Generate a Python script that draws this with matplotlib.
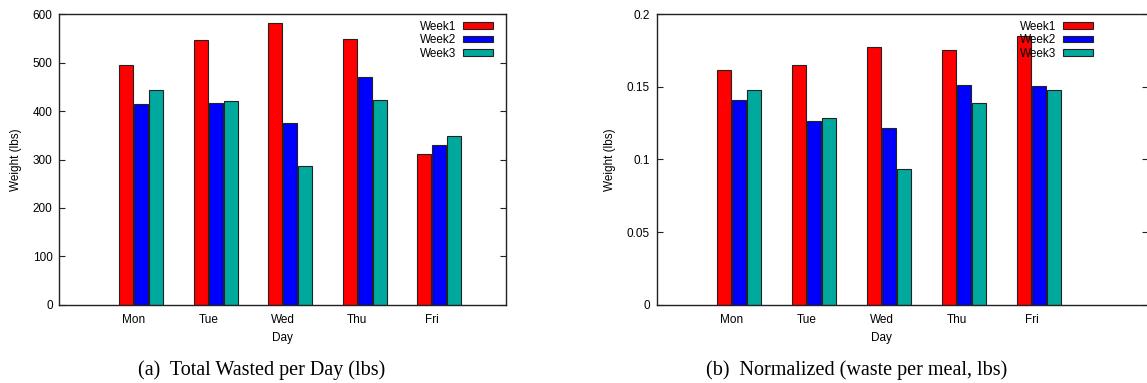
import numpy as np
import matplotlib
matplotlib.use('Agg')
import matplotlib.pyplot as plt

days = ['Mon', 'Tue', 'Wed', 'Thu', 'Fri']
weeks = ['Week1', 'Week2', 'Week3']

total_week1 = [495, 546, 583, 548, 311]
total_week2 = [415, 417, 376, 470, 329]
total_week3 = [443, 420, 287, 423, 348]

norm_week1 = [0.1614, 0.1649, 0.1773, 0.1752, 0.1848]
norm_week2 = [0.1410, 0.1263, 0.1215, 0.1511, 0.1504]
norm_week3 = [0.1479, 0.1284, 0.0932, 0.1387, 0.1479]

colors = ['#ff0000', '#0000ff', '#00a99d']
sans = 'Liberation Sans'
serif = 'Liberation Serif'

W, H = 1147, 383
fig = plt.figure(figsize=(W / 100, H / 100), dpi=100)


def draw_panel(ax, series, ymax, yticks, ytick_labels, xmax, legend_right, xlabel_x):
    x = np.arange(len(days))
    bw = 0.185
    handles = []
    for k, vals in enumerate(series):
        b = ax.bar(x - 0.1 + 0.2 * k, vals, bw, color=colors[k],
                   edgecolor='#222222', linewidth=0.8, label=weeks[k], zorder=2)
        handles.append(b)
    ax.set_xlim(-1, xmax)
    ax.set_ylim(0, ymax)
    ax.set_xticks(x)
    ax.set_xticklabels(days, fontfamily=sans, fontsize=8.5)
    ax.set_yticks(yticks)
    ax.set_yticklabels(ytick_labels, fontfamily=sans, fontsize=8.5)
    ax.tick_params(axis='x', length=0, pad=7)
    ax.tick_params(axis='y', direction='in', length=4.5, width=0.8,
                   left=True, right=True, pad=4.8, color='#222222')
    for s in ax.spines.values():
        s.set_linewidth(1.0)
        s.set_color('#222222')
    ax.set_xlabel('Day', fontfamily=sans, fontsize=8.5)
    ax.xaxis.set_label_coords(xlabel_x, -0.095)
    ax.set_ylabel('Weight (lbs)', fontfamily=sans, fontsize=8.5, labelpad=8)
    ax.legend(handles=handles, loc='upper right',
              bbox_to_anchor=(legend_right, 0.978), frameon=False,
              markerfirst=False, handlelength=2.55, handleheight=0.5,
              handletextpad=0.6, labelspacing=0.12, borderpad=0,
              borderaxespad=0, prop={'family': sans, 'size': 8.5})


ax1 = fig.add_axes([59.3 / W, 1 - 304.7 / H, 447 / W, 290.4 / H])
draw_panel(ax1, [total_week1, total_week2, total_week3], 600,
           [0, 100, 200, 300, 400, 500, 600],
           ['0', '100', '200', '300', '400', '500', '600'],
           5, 0.971, 0.5)

ax2 = fig.add_axes([656.7 / W, 1 - 304.7 / H, 491.3 / W, 290.4 / H])
draw_panel(ax2, [norm_week1, norm_week2, norm_week3], 0.2,
           [0, 0.05, 0.1, 0.15, 0.2],
           ['0', '0.05', '0.1', '0.15', '0.2'],
           -1 + 491.3 / 75, 0.889, 3 / 6.55)

fig.text(261.5 / W, 1 - 370 / H, '(a)  Total Wasted per Day (lbs)',
         fontfamily=serif, fontsize=14.5, ha='center', va='center')
fig.text(857 / W, 1 - 370 / H, '(b)  Normalized (waste per meal, lbs)',
         fontfamily=serif, fontsize=14.5, ha='center', va='center')

fig.savefig('out.png', dpi=100)
